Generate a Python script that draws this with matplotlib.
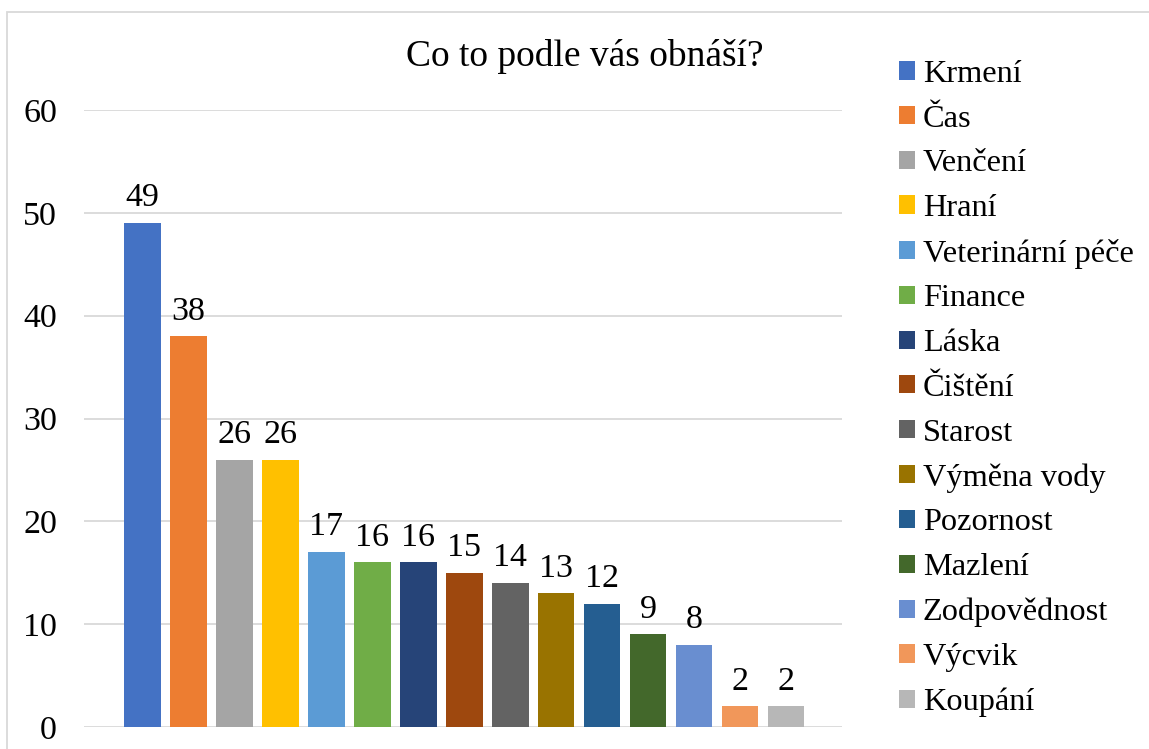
import matplotlib
matplotlib.use("Agg")
import matplotlib.pyplot as plt
from matplotlib.patches import Rectangle

categories = ["Krmení", "Čas", "Venčení", "Hraní", "Veterinární péče", "Finance",
              "Láska", "Čištění", "Starost", "Výměna vody", "Pozornost", "Mazlení",
              "Zodpovědnost", "Výcvik", "Koupání"]
values = [49, 38, 26, 26, 17, 16, 16, 15, 14, 13, 12, 9, 8, 2, 2]
colors = ["#4472C4", "#ED7D31", "#A5A5A5", "#FFC000", "#5B9BD5", "#70AD47",
          "#264478", "#9E480E", "#636363", "#997300", "#255E91", "#43682B",
          "#698ED0", "#F1975A", "#B7B7B7"]
yticks = [0, 10, 20, 30, 40, 50, 60]
title = "Co to podle vás obnáší?"

plt.rcParams['font.family'] = ['Liberation Serif', 'DejaVu Serif']

W, H = 1149, 749
fig = plt.figure(figsize=(W / 100, H / 100), dpi=100)
ax = fig.add_axes([84 / W, (H - 727) / H, (842 - 84) / W, (727 - 110) / H])

handles = []
for i, (c, v, col) in enumerate(zip(categories, values, colors)):
    b = ax.bar(i, v, width=0.8, color=col, label=c, zorder=3)
    ax.bar_label(b, labels=[str(v)], padding=7, fontsize=24.5, color="#000000")
    handles.append(b)

ax.set_xlim(-1.27, 14 + 1.22)
ax.set_ylim(0, 60)
ax.set_yticks(yticks)
ax.set_yticklabels([str(t) for t in yticks], fontsize=24.5)
ax.set_xticks([])
ax.yaxis.grid(True, color="#D9D9D9", linewidth=1.3, zorder=0)
ax.tick_params(axis='y', length=0, pad=19.4)
for s in ax.spines.values():
    s.set_visible(False)
ax.set_facecolor("none")

fig.text(585 / W, 1 - 57 / H, title, ha="center", va="center", fontsize=27)

fig.legend(handles=handles, labels=categories, loc="upper left",
           bbox_to_anchor=(899 / W, 1 - 60 / H), frameon=False, fontsize=23.3,
           handlelength=0.49, handleheight=0.49, handletextpad=0.25,
           labelspacing=0.485, borderaxespad=0, borderpad=0)

fig.patches.append(Rectangle((7 / W, -0.01), 1.01, 1 - 12 / H + 0.01,
                             transform=fig.transFigure, fill=False,
                             edgecolor="#D9D9D9", linewidth=1.3))

fig.savefig("out.png", dpi=100)
